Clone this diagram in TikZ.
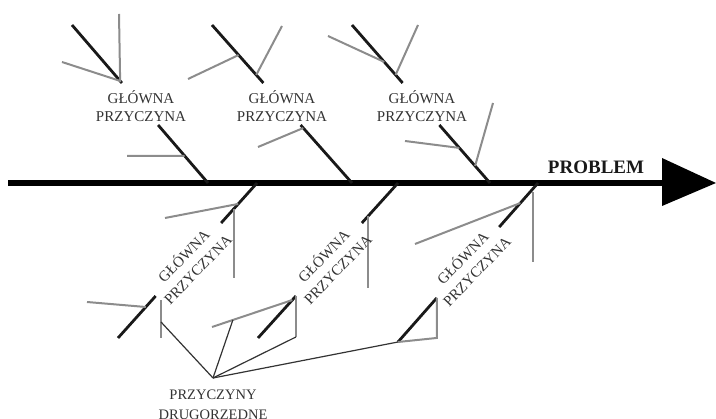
\documentclass[tikz,border=0pt]{standalone}
\usepackage{fontspec}
\setmainfont{Liberation Serif}
\usetikzlibrary{calc}
\begin{document}
\begin{tikzpicture}[x=1pt,y=-1pt,
  spine/.style={line width=5.5pt,black},
  bone/.style={line width=2.8pt,black!90},
  twig/.style={line width=2pt,black!45},
  link/.style={line width=1.2pt,black!80},
  cause/.style={font=\fontsize{15}{18}\selectfont,align=center,text=black!80,inner sep=0pt},
  slanted/.style={cause,font=\fontsize{15}{19.5}\selectfont,rotate=46},
  minor/.style={font=\fontsize{14.5}{20.5}\selectfont,align=center,text=black!80,inner sep=0pt},
  effect/.style={font=\fontsize{19}{22}\selectfont\bfseries,text=black!90,inner sep=0pt},
]
\useasboundingbox (0,0) rectangle (716,419);

% main spine with its arrow head
\coordinate (tail) at (8,183);
\coordinate (head) at (662,183);
\coordinate (tip)  at (716,183);
\draw[spine] (tail) -- (head);
\fill[black] (662,158) -- (tip) -- (662,206) -- cycle;
\node[effect] (problem) at (596,167) {PROBLEM};

% upper main causes: top end and joint on the spine
\coordinate (u1t) at (72,25);   \coordinate (u1j) at (208,183);
\coordinate (u2t) at (212,25);  \coordinate (u2j) at (352,183);
\coordinate (u3t) at (352,25);  \coordinate (u3j) at (490,183);
\foreach \b in {u1,u2,u3}{
  \draw[bone] (\b t) -- ($(\b t)!0.367!(\b j)$) ($(\b t)!0.633!(\b j)$) -- (\b j);
}

% lower main causes: joint on the spine and lower end
\coordinate (l1j) at (257,183); \coordinate (l1e) at (118,338);
\coordinate (l2j) at (398,183); \coordinate (l2e) at (258,338);
\coordinate (l3j) at (538,183); \coordinate (l3e) at (398,342);
\draw[bone] (l1j) -- ($(l1j)!0.258!(l1e)$) ($(l1j)!0.729!(l1e)$) -- (l1e);
\draw[bone] (l2j) -- ($(l2j)!0.258!(l2e)$) ($(l2j)!0.729!(l2e)$) -- (l2e);
\draw[bone] (l3j) -- ($(l3j)!0.277!(l3e)$) ($(l3j)!0.723!(l3e)$) -- (l3e);

% secondary causes on the upper bones
\draw[twig] (119,14) -- ($(u1t)!0.354!(u1j)$) -- (62,62);
\draw[twig] (127,156) -- ($(u1t)!0.829!(u1j)$);
\draw[twig] (188,79) -- ($(u2t)!0.19!(u2j)$);
\draw[twig] (282,26) -- ($(u2t)!0.316!(u2j)$);
\draw[twig] (258,147) -- ($(u2t)!0.652!(u2j)$);
\draw[twig] (328,36) -- ($(u3t)!0.234!(u3j)$);
\draw[twig] (418,25) -- ($(u3t)!0.316!(u3j)$);
\draw[twig] (405,141) -- ($(u3t)!0.778!(u3j)$);
\draw[twig] (493,103) -- ($(u3t)!0.892!(u3j)$);

% secondary causes on the lower bones
\draw[twig] (165,218) -- ($(l1j)!0.135!(l1e)$);
\draw[twig] ($(l1j)!0.165!(l1e)$) -- ++(0,69);
\draw[twig] (87,302) -- ($(l1j)!0.8!(l1e)$);
\coordinate (l1v) at (161,322);
\draw[twig] (161,300) -- (161,338);

\draw[twig] ($(l2j)!0.214!(l2e)$) -- ++(0,72);
\coordinate (l2a) at (212,327);
\coordinate (l2b) at ($(l2j)!0.755!(l2e)$);
\draw[twig] (l2a) -- (l2b);
\coordinate (l2top) at ($(l2j)!0.729!(l2e)$);
\coordinate (l2v) at ($(l2top)+(0,41)$);
\draw[twig] (l2top) -- (l2v);

\draw[twig] (415,244) -- ($(l3j)!0.126!(l3e)$);
\draw[twig] (533,192) -- (533,262);
\coordinate (l3top) at ($(l3j)!0.723!(l3e)$);
\coordinate (l3v) at ($(l3top)+(0,40)$);
\draw[twig] (l3top) -- (l3v) -- (l3e);

% labels of the main causes
\node[cause] (c1) at (141,106) {GŁÓWNA\\PRZYCZYNA};
\node[cause] (c2) at (282,106) {GŁÓWNA\\PRZYCZYNA};
\node[cause] (c3) at (422,106) {GŁÓWNA\\PRZYCZYNA};
\node[slanted] (c4) at (190,262) {GŁÓWNA\\PRZYCZYNA};
\node[slanted] (c5) at (330,262) {GŁÓWNA\\PRZYCZYNA};
\node[slanted] (c6) at (469,264) {GŁÓWNA\\PRZYCZYNA};

% secondary causes gathered under one label
\coordinate (conv) at (213,378);
\draw[link] (conv) -- (l1v);
\draw[link] (conv) -- ($(l2a)!0.26!(l2b)$);
\draw[link] (conv) -- (l2v);
\draw[link] (conv) -- (l3e);
\node[minor] (secondary) at (213,406) {PRZYCZYNY\\DRUGORZĘDNE};
\end{tikzpicture}
\end{document}
